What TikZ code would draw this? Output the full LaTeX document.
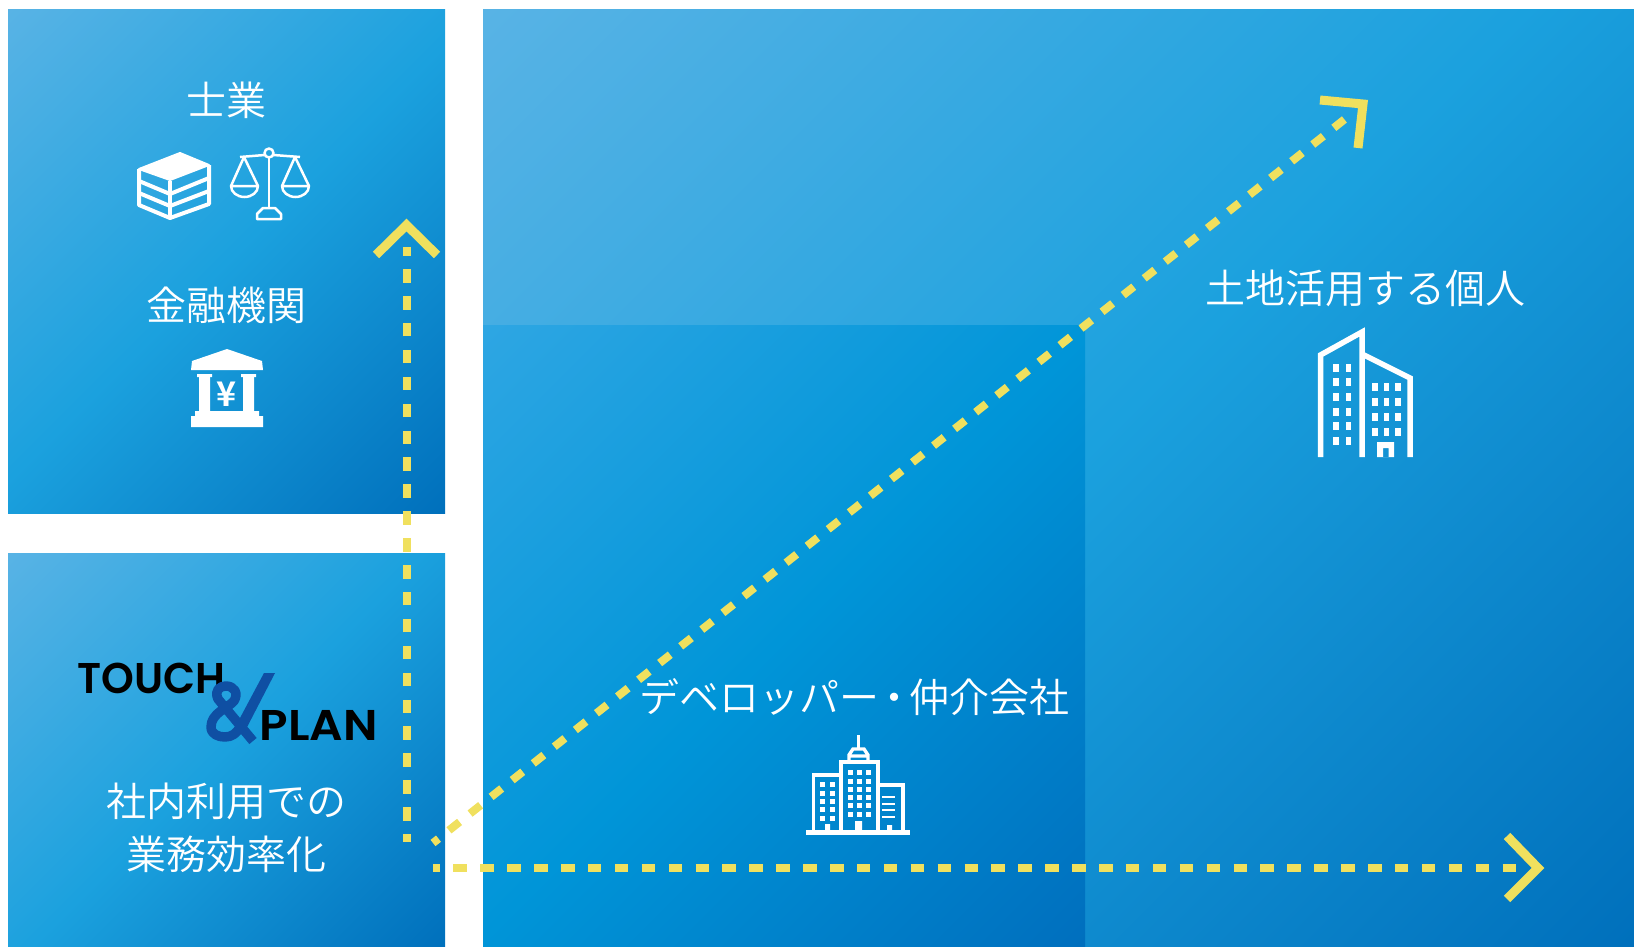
\documentclass[tikz,border=0pt]{standalone}
\usepackage{graphicx}
\usepackage{fontspec}
\setmainfont{Noto Sans CJK JP}[UprightFont={* DemiLight},BoldFont={* Bold}]
\newfontfamily\logofont{Poppins}[BoldFont={* SemiBold}]
\usetikzlibrary{calc}
\definecolor{gdark}{HTML}{0070BC}
\definecolor{gmid}{HTML}{1BA1DE}
\definecolor{glight}{HTML}{58B3E5}
\definecolor{idark}{HTML}{006FBE}
\definecolor{imid}{HTML}{0095D8}
\definecolor{ilight}{HTML}{2EA6E3}
\definecolor{arrowy}{HTML}{F0E05E}
\definecolor{ampblue}{HTML}{0F4FA3}
\pgfdeclareverticalshading{panelshade}{100bp}{color(0bp)=(gdark);color(14.64bp)=(gdark);color(50bp)=(gmid);color(85.36bp)=(glight);color(100bp)=(glight)}
\pgfdeclareverticalshading{innershade}{100bp}{color(0bp)=(idark);color(14.64bp)=(idark);color(50bp)=(imid);color(85.36bp)=(ilight);color(100bp)=(ilight)}
\tikzset{
  panel/.style={shading=panelshade,shading angle=45},
  innerpanel/.style={shading=innershade,shading angle=45},
  label/.style={font=\fontsize{40}{53}\selectfont,text=white,inner sep=0pt,align=center},
  logotext/.style={font=\logofont\bfseries\fontsize{43}{43}\selectfont,text=black,inner sep=0pt},
  dashline/.style={draw=arrowy,line width=8pt,dash pattern=on 13.5pt off 13.4pt},
  chevron/.style={draw=arrowy,line width=9pt,miter limit=10},
  icon/.style={draw=white,line width=3.4pt,line join=round},
  iconfill/.style={fill=white,draw=none},
}
\begin{document}
\begin{tikzpicture}[x=1pt,y=-1pt]
\useasboundingbox (0,0) rectangle (1634,946);
% panels
\shade[panel] (8,9) rectangle (445,513);
\shade[panel] (8,553) rectangle (445,946);
\shade[panel] (483,9) rectangle (1634,946);
\shade[innerpanel] (483,325) rectangle (1085,946);
% labels
\node[label] (shigyo) at (226,100) {士業};
\node[label] (kinyu) at (226,305) {金融機関};
\node[label] (shanai) at (226,828) {社内利用での\\業務効率化};
\node[label] (kojin) at (1365,288) {土地活用する個人};
\node[label] (dev) at (854,697) {デベロッパー\hspace{-5pt}・\hspace{-5pt}仲介会社};
% book icon
\fill[white,draw=white,line width=2pt,line join=round] (180,153) -- (209,165) -- (170,180) -- (139,169) -- cycle;
\draw[icon,line width=4pt] (139,169) -- (139,205) -- (170,218) -- (209,204) -- (209,165);
\draw[icon,line width=4pt] (139,181) -- (170,194) -- (209,178);
\draw[icon,line width=4pt] (139,193) -- (170,206) -- (209,191);
\draw[icon,line width=4pt] (170,181) -- (170,218);
% scales icon
\draw[icon,line width=2.5pt] (269,153) circle (4.5);
\draw[icon,line width=2.5pt] (264.5,155) -- (240,157) (273.5,155) -- (300,157);
\draw[icon,line width=2.5pt] (269,157.5) -- (269,208);
\draw[icon,line width=2.5pt] (244,157) -- (231,186) arc[start angle=180,end angle=0,x radius=13.5,y radius=11] -- cycle (231,186) -- (258,186);
\draw[icon,line width=2.5pt] (295,157) -- (282,186) arc[start angle=180,end angle=0,x radius=13.5,y radius=11] -- cycle (282,186) -- (309,186);
\draw[icon,line width=2.5pt] (263,208) -- (275,208) -- (281,214) -- (281,219) -- (257,219) -- (257,214) -- cycle;
% bank icon
\fill[iconfill] (227,349) -- (262,361) -- (263,370) -- (191,370) -- (192,361) -- cycle;
\fill[iconfill] (199,374) rectangle (210,411) (243,374) rectangle (254,411);
\fill[iconfill] (197,374) rectangle (212,377) (241,374) rectangle (256,377);
\fill[iconfill] (195,411) rectangle (259,416) (191,416) rectangle (263,427);
\node[inner sep=0pt,text=white,font=\bfseries\fontsize{34}{34}\selectfont] (yen) at (227,394) {¥};
% logo
\node[logotext,anchor=base west] (touch) at (77,693) {\scalebox{.97}[1]{TOUCH}};
\node[logotext,anchor=base west] (plan) at (259.5,740) {\scalebox{1.09}[1]{PLAN}};
\draw[ampblue,line width=9.5pt,line join=round] (253,741) -- (218,699) .. controls (214,690) and (220,686) .. (226,686) .. controls (234,686) and (239,693) .. (234,701) .. controls (228,708) and (211,713) .. (211,727) .. controls (211,734) and (218,737) .. (225,737) .. controls (232,737) and (237,733) .. (240,727);
\fill[ampblue] (264,673) -- (275,673) -- (244,733) -- (232,733) -- cycle;
% building 1
\begin{scope}
\draw[white,line width=5.5pt,miter limit=10] (1320.5,457) -- (1320.5,355) -- (1362,332) -- (1362,457);
\draw[white,line width=5.5pt,miter limit=10] (1362,354) -- (1410,378) -- (1410,457);
\foreach \wx in {1333,1345.5}\foreach \wy in {363.5,378.2,392.9,407.6,422.3,437}
  \fill[white] (\wx,\wy) rectangle ++(5.5,8);
\foreach \wx in {1372,1383.5,1395}\foreach \wy in {383,398,413,428}
  \fill[white] (\wx,\wy) rectangle ++(5.5,8);
\fill[white,even odd rule] (1377,442) rectangle (1394,457) (1383,448) rectangle (1388.5,457);
\end{scope}
% building 2
\begin{scope}
\fill[white] (806,830) rectangle (910,835);
\draw[icon,line cap=butt,line join=miter] (813.5,831) -- (813.5,775) -- (840,775);
\draw[icon,line cap=butt,line join=miter] (841,831) -- (841,762) -- (878,762) -- (878,831);
\draw[icon,line cap=butt,line join=miter] (878,785) -- (903,785) -- (903,831);
\draw[icon,line cap=butt,line join=miter] (849,762) -- (849,755) -- (853,749) -- (864,749) -- (868,755) -- (868,762) (849,756) -- (868,756);
\draw[icon,line cap=butt] (858.5,735) -- (858.5,749);
\foreach \wx in {820,830}\foreach \wy in {782,791,799,807,816}
  \fill[white] (\wx,\wy) rectangle ++(4.5,4.5);
\foreach \wx in {848,857,866}\foreach \wy in {770,779,787,795,803,812}
  \fill[white] (\wx,\wy) rectangle ++(4.5,4.5);
\foreach \wy in {796,803,809,816}
  \fill[white] (882,\wy) rectangle (895,\wy+2.4);
\fill[white] (825,824) rectangle (830,832) (855,821) rectangle (862,832) (887,825) rectangle (892,832);
\end{scope}
% arrows
\coordinate (vs) at (406.5,842);
\coordinate (ve) at (406.5,247);
\coordinate (va) at (376,255);
\coordinate (vb) at (406.5,225);
\coordinate (vc) at (437,255);
\draw[dashline,dash phase=5.5pt] (vs) -- (ve);
\draw[chevron] (va) -- (vb) -- (vc);
\coordinate (hs) at (433,868);
\coordinate (he) at (1520,868);
\coordinate (ha) at (1507,836);
\coordinate (hb) at (1538,868);
\coordinate (hc) at (1507,899);
\draw[dashline,dash phase=6.5pt] (hs) -- (he);
\draw[chevron] (ha) -- (hb) -- (hc);
\coordinate (ds) at (433,843);
\coordinate (de) at (1350,115);
\coordinate (da) at (1320,100);
\coordinate (db) at (1363,104);
\coordinate (dc) at (1358,148);
\draw[dashline,dash phase=6.5pt] (ds) -- (de);
\draw[chevron] (da) -- (db) -- (dc);
\end{tikzpicture}
\end{document}
